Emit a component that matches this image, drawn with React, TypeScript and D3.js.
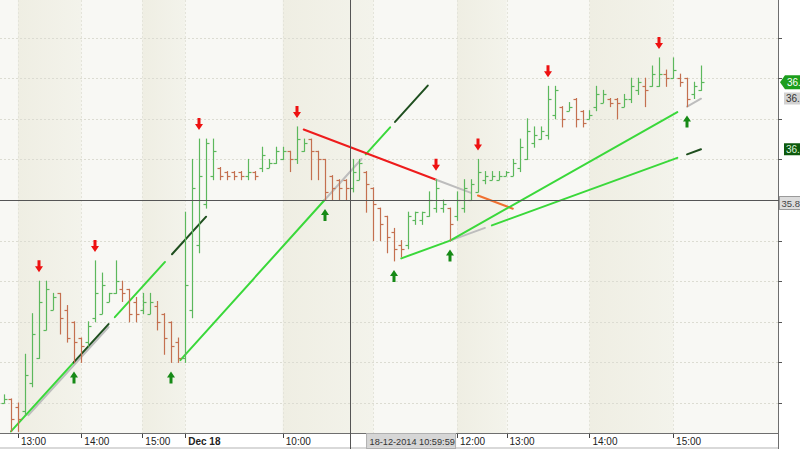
import React from 'react';
import * as d3 from 'd3';

// ---- OHLC data (5-minute bars, index 0..100) ----
const opens = [
  35.30, 35.31, 35.29, 35.28, 35.35, 35.41, 35.48, 35.53, 35.57, 35.53,
  35.50, 35.46, 35.45, 35.51, 35.52, 35.55, 35.57, 35.58, 35.58, 35.55,
  35.53, 35.52, 35.54, 35.52, 35.50, 35.45, 35.41, 35.53, 35.69, 35.79,
  35.86, 35.88, 35.87, 35.87, 35.87, 35.86, 35.87, 35.88, 35.88, 35.89,
  35.90, 35.92, 35.90, 35.92, 35.95, 35.92, 35.90, 35.86, 35.85, 35.85,
  35.83, 35.85, 35.87, 35.83, 35.78, 35.76, 35.72, 35.69, 35.69, 35.75,
  35.75, 35.76, 35.78, 35.78, 35.78, 35.76, 35.78, 35.80, 35.82, 35.85,
  35.85, 35.85, 35.86, 35.86, 35.88, 35.90, 35.94, 35.95, 35.96, 36.01,
  36.03, 36.02, 36.05, 36.02, 36.00, 36.03, 36.04, 36.05, 36.05, 36.03,
  36.05, 36.07, 36.08, 36.08, 36.08, 36.11, 36.10, 36.10, 36.10, 36.06,
  36.07,
];
const highs = [
  35.32, 35.31, 35.30, 35.42, 35.52, 35.60, 35.60, 35.57, 35.57, 35.54,
  35.50, 35.46, 35.50, 35.65, 35.62, 35.57, 35.65, 35.60, 35.58, 35.56,
  35.57, 35.57, 35.55, 35.52, 35.50, 35.46, 35.77, 35.90, 35.95, 35.95,
  35.95, 35.88, 35.87, 35.87, 35.87, 35.90, 35.87, 35.93, 35.90, 35.93,
  35.93, 35.92, 35.98, 35.95, 35.95, 35.92, 35.90, 35.86, 35.85, 35.85,
  35.90, 35.90, 35.87, 35.83, 35.78, 35.76, 35.73, 35.70, 35.77, 35.77,
  35.77, 35.82, 35.85, 35.80, 35.78, 35.82, 35.85, 35.85, 35.90, 35.87,
  35.87, 35.87, 35.87, 35.90, 35.95, 36.00, 35.98, 35.98, 36.08, 36.08,
  36.03, 36.04, 36.05, 36.02, 36.02, 36.08, 36.07, 36.05, 36.05, 36.06,
  36.10, 36.10, 36.10, 36.13, 36.15, 36.12, 36.15, 36.11, 36.10, 36.09,
  36.13,
];
const lows = [
  35.30, 35.23, 35.23, 35.27, 35.34, 35.41, 35.48, 35.53, 35.47, 35.45,
  35.40, 35.40, 35.44, 35.50, 35.52, 35.55, 35.57, 35.55, 35.50, 35.50,
  35.52, 35.52, 35.48, 35.42, 35.40, 35.40, 35.40, 35.51, 35.67, 35.78,
  35.85, 35.85, 35.85, 35.85, 35.85, 35.85, 35.85, 35.87, 35.88, 35.89,
  35.90, 35.87, 35.89, 35.92, 35.85, 35.85, 35.80, 35.80, 35.80, 35.80,
  35.82, 35.85, 35.77, 35.70, 35.70, 35.67, 35.65, 35.66, 35.68, 35.74,
  35.74, 35.76, 35.77, 35.77, 35.70, 35.75, 35.77, 35.80, 35.82, 35.84,
  35.85, 35.85, 35.86, 35.86, 35.87, 35.90, 35.93, 35.95, 35.95, 36.00,
  35.98, 36.02, 35.98, 35.98, 36.00, 36.02, 36.04, 36.03, 36.00, 36.03,
  36.04, 36.06, 36.03, 36.08, 36.08, 36.08, 36.10, 36.08, 36.03, 36.05,
  36.07,
];
const closes = [
  35.31, 35.26, 35.26, 35.37, 35.47, 35.55, 35.58, 35.56, 35.51, 35.46,
  35.45, 35.44, 35.49, 35.57, 35.59, 35.57, 35.60, 35.57, 35.52, 35.52,
  35.55, 35.55, 35.50, 35.46, 35.44, 35.41, 35.59, 35.83, 35.86, 35.94,
  35.92, 35.86, 35.86, 35.86, 35.86, 35.87, 35.86, 35.91, 35.89, 35.92,
  35.92, 35.90, 35.95, 35.94, 35.92, 35.90, 35.82, 35.83, 35.83, 35.83,
  35.87, 35.89, 35.84, 35.79, 35.74, 35.71, 35.68, 35.68, 35.76, 35.77,
  35.77, 35.80, 35.83, 35.79, 35.74, 35.80, 35.83, 35.84, 35.87, 35.86,
  35.86, 35.86, 35.87, 35.89, 35.93, 35.97, 35.96, 35.97, 36.05, 36.07,
  36.00, 36.03, 36.00, 35.99, 36.01, 36.06, 36.06, 36.04, 36.04, 36.05,
  36.08, 36.09, 36.07, 36.11, 36.11, 36.10, 36.12, 36.09, 36.05, 36.08,
  36.09,
];

// ---- time axis (11:00 label is hidden under the crosshair label in the reference) ----
const hourTickIdx = [2, 11.1, 19.85, 26, 40, 53, 65, 72.1, 84, 96];
const hourTickLabels = ['13:00', '14:00', '15:00', 'Dec 18', '10:00', '', '12:00', '13:00', '14:00', '15:00'];
const shadedBandStart = [2, 19.85, 40, 65, 84];
const shadedBandEnd = [11.1, 26, 53, 72.1, 96];

// ---- price grid ----
const priceGrid = [35.3, 35.4, 35.5, 35.6, 35.7, 35.8, 35.9, 36.0, 36.1, 36.2];

// ---- signals ----
const sellSignals = [5, 13, 28, 42, 62, 68, 78, 94];
const buySignals = [10, 24, 46, 56, 64, 98];

// ---- trend lines: two anchors (index, price) and coloured segments ----
const trendAnchorA = [[3.5, 35.27], [15, 35.487]]; // grey shadow
const trendAnchor1 = [[1, 35.23], [10, 35.40]];
const trendAnchor2 = [[25, 35.40], [46, 35.80]];
const trendAnchor3 = [[42, 35.98], [62, 35.85]];
const trendAnchor4 = [[56, 35.65], [64, 35.70]];
const trendAnchor5 = [[64, 35.70], [98, 36.03]];
const trendSegA = [[3.5, 15, 'gray']];
const trendSeg1 = [[1, 10, 'bright'], [10, 15, 'dark'], [15.9, 23.1, 'bright'], [24.1, 29, 'dark']];
const trendSeg2 = [[25.3, 46, 'bright'], [46, 51.3, 'gray'], [51.9, 55.4, 'bright'], [56.1, 60.8, 'dark']];
const trendSeg3 = [[43, 62, 'red'], [62, 67, 'gray'], [68, 73, 'orange']];
const trendSeg4 = [[57, 64, 'bright'], [64, 69, 'gray'], [70, 96.6, 'bright'], [98, 100, 'dark']];
const trendSeg5 = [[64, 96.6, 'bright'], [98, 100, 'gray']];

// ---- crosshair & tags ----
const crossIdx = 49.65;
const crossPrice = 35.8;
const crossTimeLabel = '18-12-2014 10:59:59';
const crossPriceLabel = '35.8';
const tagPrices = [36.09, 36.05, 35.925];
const tagLabels = ['36.', '36.', '36.'];

const COLORS: Record<string, string> = {
  bright: '#3ad83a',
  dark: '#1f4f1f',
  gray: '#bdbdbd',
  red: '#ee1c1c',
  orange: '#f07030',
};

export default function App() {
  const W = 800;
  const H = 449;
  const right = 778;
  const bottom = 433;
  const x = d3.scaleLinear().domain([0, 100]).range([4, 701]);
  const y = d3.scaleLinear().domain([35.3, 36.2]).range([403, 37.6]);
  const snap = (v: number) => Math.round(v) + 0.5;
  const font = "'DejaVu Sans', 'Liberation Sans', Arial, sans-serif";
  const green = '#5cb85c';
  const red = '#c4704f';

  const lineDefs = [
    { a: trendAnchorA, s: trendSegA },
    { a: trendAnchor1, s: trendSeg1 },
    { a: trendAnchor2, s: trendSeg2 },
    { a: trendAnchor3, s: trendSeg3 },
    { a: trendAnchor4, s: trendSeg4 },
    { a: trendAnchor5, s: trendSeg5 },
  ];
  const lineGen = d3.line<[number, number]>().x((d) => x(d[0])).y((d) => y(d[1]));

  return (
    <div style={{ position: 'fixed', left: 0, top: 0, width: W, height: H, background: '#fff' }}>
      <svg width={W} height={H} style={{ display: 'block', fontFamily: "'Liberation Sans', Arial, sans-serif" }}>
        <defs>
          <clipPath id="plot">
            <rect x={0} y={0} width={right} height={bottom} />
          </clipPath>
          <linearGradient id="band" x1="0" x2="1" y1="0" y2="0">
            <stop offset="0" stopColor="#efeee3" />
            <stop offset="1" stopColor="#f3f3eb" />
          </linearGradient>
        </defs>
        <rect x={0} y={0} width={W} height={H} fill="#ffffff" />
        <g clipPath="url(#plot)">
          <rect x={0} y={0} width={right} height={bottom} fill="#f8f8f4" />
          {shadedBandStart.map((s, i) => (
            <rect key={'b' + i} x={x(s)} y={0} width={x(shadedBandEnd[i]) - x(s)} height={bottom} fill="url(#band)" />
          ))}
          {priceGrid.map((p, i) => (
            <line key={'g' + i} x1={0} x2={right} y1={snap(y(p))} y2={snap(y(p))} stroke="#dcdcd2" strokeDasharray="2,2" />
          ))}
          {hourTickIdx.map((t, i) => (
            <line key={'v' + i} x1={snap(x(t))} x2={snap(x(t))} y1={0} y2={bottom} stroke="#e4e4da" strokeDasharray="2,2" />
          ))}
          {/* trend lines */}
          {lineDefs.map((ld, li) => {
            const [p1, p2] = ld.a;
            const slope = (p2[1] - p1[1]) / (p2[0] - p1[0]);
            const val = (i: number) => p1[1] + slope * (i - p1[0]);
            return ld.s.map((sg, si) => {
              const a = sg[0] as number;
              const b = sg[1] as number;
              const c = sg[2] as string;
              return (
                <path
                  key={'t' + li + '-' + si}
                  d={lineGen([[a, val(a)], [b, val(b)]]) || ''}
                  stroke={COLORS[c]}
                  strokeWidth={2}
                  fill="none"
                  strokeLinecap="round"
                />
              );
            });
          })}
          {/* OHLC bars */}
          {opens.map((o, i) => {
            const cx = snap(x(i));
            const col = closes[i] >= o ? green : red;
            return (
              <g key={'bar' + i} stroke={col} strokeWidth={1.2}>
                <line x1={cx} x2={cx} y1={y(highs[i]) - 0.5} y2={y(lows[i]) + 0.5} />
                <line x1={cx - 3} x2={cx} y1={snap(y(o))} y2={snap(y(o))} />
                <line x1={cx} x2={cx + 3} y1={snap(y(closes[i]))} y2={snap(y(closes[i]))} />
              </g>
            );
          })}
          {/* signals */}
          {sellSignals.map((s, i) => {
            const cx = snap(x(s)) - 0.5;
            const tip = y(highs[s]) - 9;
            return (
              <path
                key={'s' + i}
                d={`M${cx - 1.5},${tip - 12}H${cx + 1.5}V${tip - 6}H${cx + 4}L${cx},${tip}L${cx - 4},${tip - 6}H${cx - 1.5}Z`}
                fill="#ee1111"
              />
            );
          })}
          {buySignals.map((s, i) => {
            const cx = snap(x(s)) - 0.5;
            const tip = y(lows[s]) + 9;
            return (
              <path
                key={'u' + i}
                d={`M${cx - 1.5},${tip + 12}H${cx + 1.5}V${tip + 6}H${cx + 4}L${cx},${tip}L${cx - 4},${tip + 6}H${cx - 1.5}Z`}
                fill="#168a16"
              />
            );
          })}
          {/* crosshair horizontal */}
          <line x1={0} x2={right} y1={snap(y(crossPrice))} y2={snap(y(crossPrice))} stroke="#555" strokeWidth={1} />
        </g>
        {/* crosshair vertical */}
        <line x1={snap(x(crossIdx))} x2={snap(x(crossIdx))} y1={0} y2={H} stroke="#555" strokeWidth={1} />

        {/* time axis */}
        <rect x={0} y={bottom} width={right} height={14} fill="#ffffff" />
        <line x1={0} x2={right} y1={bottom + 0.5} y2={bottom + 0.5} stroke="#6e6e6e" />
        {hourTickIdx.map((t, i) => (
          <g key={'ht' + i}>
            <line x1={snap(x(t))} x2={snap(x(t))} y1={bottom + 1} y2={bottom + 5} stroke="#444" />
            {hourTickLabels[i] ? (
              <text x={x(t) + 3} y={bottom + 12} fontSize={10} fill="#222" fontWeight={hourTickLabels[i] === 'Dec 18' ? 'bold' : 'normal'}>
                {hourTickLabels[i]}
              </text>
            ) : null}
          </g>
        ))}
        <rect x={0} y={447} width={right} height={2} fill="#d9d9d9" />
        <line x1={snap(x(crossIdx))} x2={snap(x(crossIdx))} y1={bottom} y2={H} stroke="#555" />
        {/* crosshair time label */}
        <rect x={x(crossIdx) + 16.5} y={bottom + 0.5} width={89} height={15} fill="#d6d6d6" stroke="#b0b0b0" />
        <text x={x(crossIdx) + 19.5} y={bottom + 11.5} fontSize={9.2} fill="#333">{crossTimeLabel}</text>

        {/* right price axis */}
        <line x1={right + 0.5} x2={right + 0.5} y1={0} y2={H} stroke="#6e6e6e" />
        {priceGrid.map((p, i) => (
          <line key={'rt' + i} x1={right} x2={right + 4} y1={snap(y(p))} y2={snap(y(p))} stroke="#555" />
        ))}
        {/* tags */}
        {(() => {
          const ty = y(tagPrices[0]);
          return (
            <g>
              <path d={`M${right + 2},${ty}L${right + 7},${ty - 7}H${W}V${ty + 7}H${right + 7}Z`} fill="#1c9e1c" />
              <text x={right + 9} y={ty + 3.5} fontSize={10} fill="#fff">{tagLabels[0]}</text>
            </g>
          );
        })()}
        <rect x={right + 6} y={y(tagPrices[1]) - 6} width={W - right - 6} height={12} fill="#d2d2d2" />
        <text x={right + 8} y={y(tagPrices[1]) + 3.5} fontSize={10} fill="#333">{tagLabels[1]}</text>
        <rect x={right + 6} y={y(tagPrices[2]) - 6} width={W - right - 6} height={12} fill="#0e5a0e" />
        <text x={right + 8} y={y(tagPrices[2]) + 3.5} fontSize={10} fill="#dff5df">{tagLabels[2]}</text>
        <rect x={right + 1.5} y={y(crossPrice) - 3.5} width={W - right} height={13} fill="#dcdcdc" stroke="#9a9a9a" />
        <text x={right + 3.5} y={y(crossPrice) + 6.5} fontSize={9.5} fill="#444">{crossPriceLabel}</text>
      </svg>
    </div>
  );
}
